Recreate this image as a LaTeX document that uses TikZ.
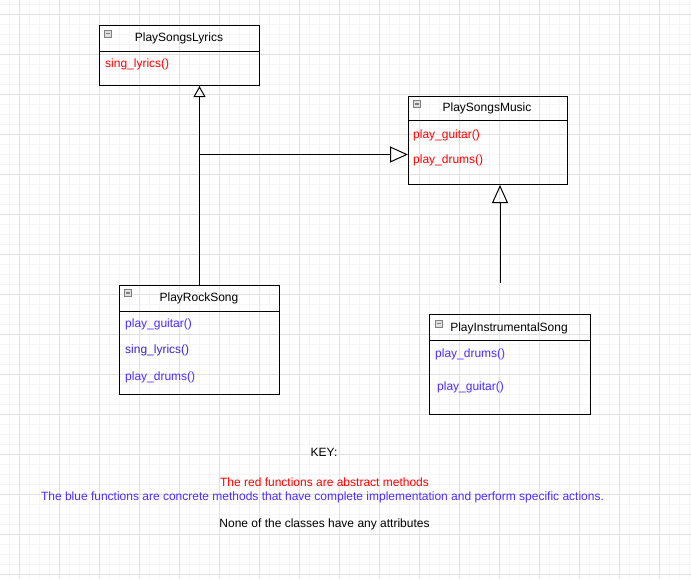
\documentclass[tikz,border=0pt]{standalone}
\usepackage{fontspec}
\setmainfont{Liberation Sans}
\usetikzlibrary{arrows.meta}
\definecolor{abstractred}{RGB}{255,0,0}
\definecolor{concreteblue}{RGB}{76,44,255}
\definecolor{gridminor}{RGB}{245,245,245}
\definecolor{gridmajor}{RGB}{224,224,224}
\begin{document}
\begin{tikzpicture}[x=1pt, y=-1pt,
    every node/.style={font=\fontsize{12}{14}\selectfont, inner sep=0pt},
    classbox/.style={draw, line width=1pt, anchor=north west},
    abstract/.style={text=abstractred, anchor=west},
    concrete/.style={text=concreteblue, anchor=west},
    icon/.style={draw=gray, fill=gray!25, minimum size=7pt, line width=0.6pt,
      path picture={\draw [line width=1.2pt] ([xshift=1.5pt]path picture bounding box.west)
        -- ([xshift=-1.5pt]path picture bounding box.east);}},
    inherit/.style={line width=1pt, -{Triangle[open, length=18pt, width=16pt]}}]
    \useasboundingbox (0,0) rectangle (691,579);
    \foreach \gx in {9,19,...,689} \draw [gridminor] (\gx,0) -- (\gx,579);
    \foreach \gy in {4,14,...,574} \draw [gridminor] (0,\gy) -- (691,\gy);
    \foreach \gx in {19,59,...,659} \draw [gridmajor] (\gx,0) -- (\gx,579);
    \foreach \gy in {14,54,...,574} \draw [gridmajor] (0,\gy) -- (691,\gy);

    \node [classbox, minimum width=160, minimum height=60] (lyrics) at (99,25) {};
    \draw [line width=1pt] ([yshift=-26pt]lyrics.north west) -- ([yshift=-26pt]lyrics.north east);
    \node [icon] (lyricsicon) at (107.5,33.5) {};
    \node (lyricsname) at (179,38) {PlaySongsLyrics};
    \node [abstract] (lyricssing) at (105,64) {sing\_lyrics()};

    \node [classbox, minimum width=159, minimum height=88] (music) at (408,96) {};
    \draw [line width=1pt] ([yshift=-24pt]music.north west) -- ([yshift=-24pt]music.north east);
    \node [icon] (musicicon) at (416.5,104) {};
    \node (musicname) at (487,108) {PlaySongsMusic};
    \node [abstract] (musicguitar) at (413,135) {play\_guitar()};
    \node [abstract] (musicdrums) at (413,160) {play\_drums()};

    \node [classbox, minimum width=160, minimum height=109] (rock) at (119,285) {};
    \draw [line width=1pt] ([yshift=-26pt]rock.north west) -- ([yshift=-26pt]rock.north east);
    \node [icon] (rockicon) at (128,293) {};
    \node (rockname) at (199,298) {PlayRockSong};
    \node [concrete] (rockguitar) at (125,324) {play\_guitar()};
    \node [concrete, text=concreteblue!80!black] (rocksing) at (125,350) {sing\_lyrics()};
    \node [concrete] (rockdrums) at (125,377) {play\_drums()};

    \node [classbox, minimum width=161, minimum height=100] (inst) at (429,314) {};
    \draw [line width=1pt] ([yshift=-26pt]inst.north west) -- ([yshift=-26pt]inst.north east);
    \node [icon] (insticon) at (438.5,323.5) {};
    \node (instname) at (509,328) {PlayInstrumentalSong};
    \node [concrete] (instdrums) at (435,354) {play\_drums()};
    \node [concrete] (instguitar) at (437,387) {play\_guitar()};

    \coordinate (branch) at (199,154.5);
    \coordinate (instfoot) at (500,283);
    \draw [inherit, -{Triangle[open, length=11pt, width=12pt]}] (rock.north) -- (rock.north |- lyrics.south);
    \draw [inherit] (branch) -- (branch -| music.west);
    \draw [inherit] (instfoot) -- (instfoot |- music.south);

    \node (key) at (324,452) {KEY:};
    \node [text=abstractred] (keyred) at (324.5,482) {The red functions are abstract methods};
    \node [text=concreteblue] (keyblue) at (322.5,497) {The blue functions are concrete methods that have complete implementation and perform specific actions.};
    \node (keynote) at (324.5,524) {None of the classes have any attributes};
\end{tikzpicture}
\end{document}
